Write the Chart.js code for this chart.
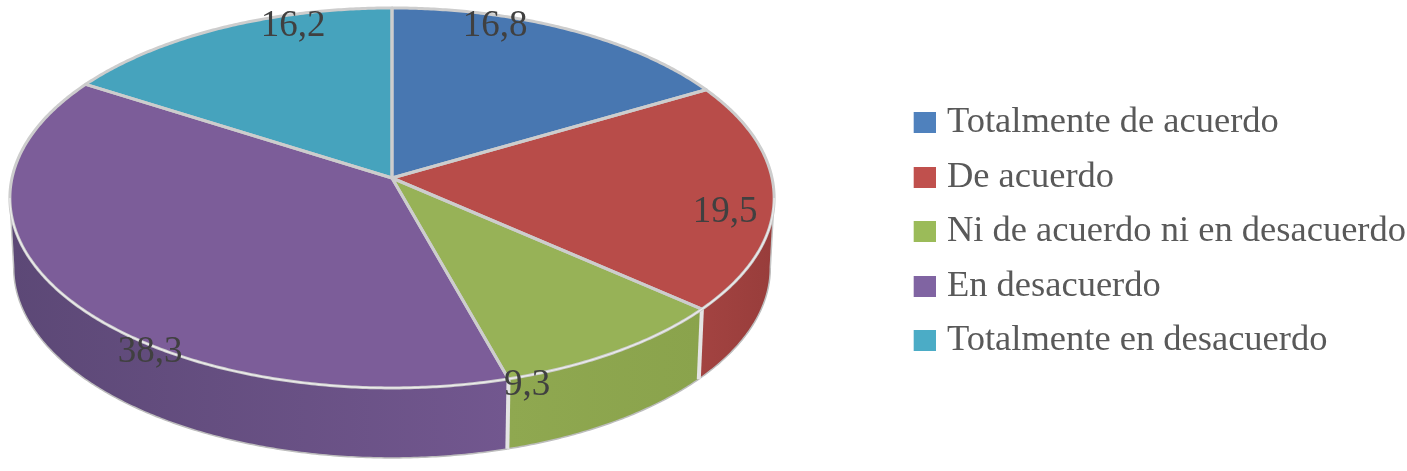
<!DOCTYPE html>
<html><head><meta charset="utf-8">
<style>html,body{margin:0;padding:0;background:#fff}canvas{display:block}</style>
<script src="https://cdn.jsdelivr.net/npm/chart.js@4/dist/chart.umd.min.js"></script>
</head><body><canvas id="c" width="1407" height="471"></canvas>
<script>
const categories = ['Totalmente de acuerdo','De acuerdo','Ni de acuerdo ni en desacuerdo','En desacuerdo','Totalmente en desacuerdo'];
const values = [16.8,19.5,9.3,38.3,16.2];
const topColors = ['#4877b1','#b84c49','#97b257','#7c5d99','#46a3bd'];
const legendColors = ['#4f81bd','#c0504d','#9bbb59','#8064a2','#4bacc6'];
const wallLeft = ['#3a5f8e','#a34341','#8fa850','#5c4876','#38829a'];
const wallRight = ['#3a5f8e','#983d3b','#8aa34c','#72578f','#38829a'];
const labelAnchors = [[495,26],[725,212],[527,385],[150,352],[293,26]];

// perspective view of the pie's top face
const view = {cx:392, cy:178, A:380, B:187.9, k:0.105, depth:70, shrink:0.99};
function facePoint(t){
  const u=Math.cos(t), v=Math.sin(t), w=1-view.k*v;
  return [view.cx+view.A*u/w, view.cy+view.B*v/w];
}
function low(p){ return [view.cx+(p[0]-view.cx)*view.shrink, p[1]+view.depth]; }
const STEP=Math.PI/360;
function samples(a,b){
  const out=[]; const n=Math.max(1,Math.ceil((b-a)/STEP));
  for(let i=0;i<=n;i++) out.push(a+(b-a)*i/n);
  return out;
}
function path(ctx,pts){ctx.beginPath();pts.forEach((p,i)=>i?ctx.lineTo(p[0],p[1]):ctx.moveTo(p[0],p[1]));ctx.closePath();}

const pie3d = {
  id:'pie3d',
  beforeDatasetsDraw(chart){
    const ctx=chart.ctx, arcs=chart.getDatasetMeta(0).data;
    const tl=Math.asin(view.k), tr=Math.PI-tl;
    ctx.save();
    ctx.lineJoin='round';
    // walls
    arcs.forEach((arc,i)=>{
      const a=Math.max(arc.startAngle,tl), b=Math.min(arc.endAngle,tr);
      if(b<=a) return;
      const up=samples(a,b).map(facePoint), dn=up.map(low).reverse(), pts=up.concat(dn);
      const xs=pts.map(p=>p[0]);
      const g=ctx.createLinearGradient(Math.min(...xs),0,Math.max(...xs),0);
      g.addColorStop(0,wallLeft[i]); g.addColorStop(1,wallRight[i]);
      path(ctx,pts); ctx.fillStyle=g; ctx.fill();
      ctx.beginPath();
      dn.forEach((p,j)=>j?ctx.lineTo(p[0],p[1]):ctx.moveTo(p[0],p[1]));
      ctx.strokeStyle='#bdbdbd'; ctx.lineWidth=1.5; ctx.stroke();
    });
    // vertical edges between walls and at silhouette
    arcs.forEach(arc=>{
      const e=arc.endAngle;
      if(e>tl&&e<tr){
        const p=facePoint(e),q=low(p);
        ctx.beginPath();ctx.moveTo(p[0],p[1]);ctx.lineTo(q[0],q[1]);
        ctx.strokeStyle='#e4e4e4';ctx.lineWidth=4;ctx.stroke();
      }
    });
    [tl,tr].forEach(t=>{
      const p=facePoint(t),q=low(p);
      ctx.beginPath();ctx.moveTo(p[0],p[1]);ctx.lineTo(q[0],q[1]);
      ctx.strokeStyle='#c4c4c4';ctx.lineWidth=1.5;ctx.stroke();
    });
    // top faces
    arcs.forEach((arc,i)=>{
      const pts=[[view.cx,view.cy]].concat(samples(arc.startAngle,arc.endAngle).map(facePoint));
      path(ctx,pts); ctx.fillStyle=topColors[i]; ctx.fill();
    });
    arcs.forEach(arc=>{
      const pts=[[view.cx,view.cy]].concat(samples(arc.startAngle,arc.endAngle).map(facePoint));
      path(ctx,pts); ctx.strokeStyle='#cdcdcd'; ctx.lineWidth=3; ctx.stroke();
    });
    // rim highlight along the front
    ctx.beginPath();
    samples(tl,tr).map(facePoint).forEach((p,j)=>j?ctx.lineTo(p[0],p[1]):ctx.moveTo(p[0],p[1]));
    ctx.strokeStyle='#ececec'; ctx.lineWidth=1.2; ctx.stroke();
    ctx.restore();
    return false;
  },
  afterDraw(chart){
    const ctx=chart.ctx;
    ctx.save();
    ctx.font='37px "Liberation Serif"';
    ctx.fillStyle='#404040';
    ctx.textAlign='center'; ctx.textBaseline='middle';
    values.forEach((v,i)=>{
      ctx.fillText(v.toFixed(1).replace('.',','),labelAnchors[i][0],labelAnchors[i][1]);
    });
    ctx.restore();
  }
};

function swatch(color){
  const s=document.createElement('canvas'); s.width=30; s.height=21;
  const x=s.getContext('2d'); x.fillStyle=color; x.fillRect(8,0,22,21);
  return s;
}

new Chart(document.getElementById('c'),{
  type:'pie',
  data:{labels:categories,datasets:[{data:values,backgroundColor:legendColors}]},
  plugins:[pie3d],
  options:{
    responsive:false,
    animation:false,
    layout:{padding:{bottom:8,right:-9}},
    plugins:{
      tooltip:{enabled:false},
      legend:{
        position:'right',
        labels:{
          usePointStyle:true,
          boxWidth:16,boxHeight:36,
          padding:18,
          color:'#595959',
          font:{family:'"Liberation Serif"',size:36.5},
          generateLabels(){
            return categories.map((t,i)=>({text:t,fillStyle:legendColors[i],strokeStyle:legendColors[i],fontColor:'#595959',lineWidth:0,pointStyle:swatch(legendColors[i]),index:i}));
          }
        }
      }
    }
  }
});
</script></body></html>
